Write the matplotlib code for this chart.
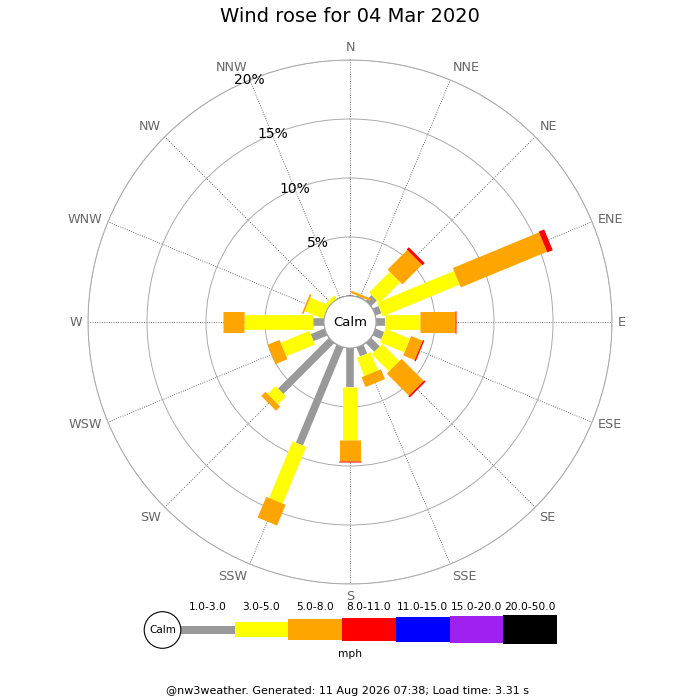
import numpy as np
import matplotlib
matplotlib.use('Agg')
import matplotlib.pyplot as plt
from matplotlib.patches import Circle

# wind rose data, % of time per direction and speed class
directions = ['N', 'NNE', 'NE', 'ENE', 'E', 'ESE', 'SE', 'SSE',
              'S', 'SSW', 'SW', 'WSW', 'W', 'WNW', 'NW', 'NNW']
speed_1_3 = [0, 0.1, 0.7, 0.55, 0.75, 0.8, 1.05, 0.83, 3.3, 9.0, 6.1, 1.27, 0.9, 0, 0, 0]
speed_3_5 = [0, 0, 2.5, 7.05, 3.0, 2.25, 2.05, 1.67, 4.5, 5.2, 0.95, 2.63, 5.85, 1.7, 0.35, 0]
speed_5_8 = [0, 0.2, 2.35, 7.9, 2.95, 1.05, 2.65, 0.9, 1.8, 1.9, 0.5, 1.1, 1.85, 0.15, 0, 0]
speed_8_11 = [0, 0, 0.25, 0.5, 0.1, 0.12, 0.15, 0, 0.1, 0, 0, 0, 0, 0, 0, 0]

classes = ['1.0-3.0', '3.0-5.0', '5.0-8.0', '8.0-11.0', '11.0-15.0', '15.0-20.0', '20.0-50.0']
colours = ['#999999', '#ffff00', '#ffa500', '#ff0000', '#0000ff', '#a020f0', '#000000']
widths = [5.5, 10.6, 15.1, 16.2]          # line widths (pt) for the bar segments
leg_heights = [8, 14.7, 20.3, 23, 25, 27, 28.3]

rings = [5, 10, 15, 20]
rmax = 20
origin = 2.2

fig = plt.figure(figsize=(7, 7), dpi=100)
ax = fig.add_axes([0.1257, 0.1657, 0.7486, 0.7486], projection='polar')
ax.set_theta_zero_location('N')
ax.set_theta_direction(-1)
ax.set_ylim(0, rmax)
ax.set_rorigin(-origin)

theta = np.radians(np.arange(16) * 22.5)
ax.set_xticks(theta)
ax.set_xticklabels([])
ax.set_yticks(rings)
ax.set_yticklabels([])
ax.xaxis.grid(True, color='#444444', linestyle=(0, (1, 1.8)), linewidth=0.6)
ax.yaxis.grid(True, color='#aaaaaa', linestyle='-', linewidth=0.7)
ax.spines['polar'].set_color('#aaaaaa')
ax.spines['polar'].set_linewidth(0.7)
for s in ['inner', 'start', 'end']:
    if s in ax.spines:
        ax.spines[s].set_visible(False)

# stacked segments, drawn as thick butt-capped lines so they keep a constant width
series = [speed_1_3, speed_3_5, speed_5_8, speed_8_11]
bottom = np.zeros(16)
for vals, col, lw in zip(series, colours, widths):
    vals = np.array(vals)
    for th, b, v in zip(theta, bottom, vals):
        if v > 0:
            ax.plot([th, th], [b, b + v], color=col, lw=lw, solid_capstyle='butt', zorder=3)
    bottom = bottom + vals

# calm circle
ax.add_patch(Circle((0.5, 0.5), 26 / 524, transform=ax.transAxes, facecolor='white',
                    edgecolor='#aaaaaa', lw=0.8, zorder=6, clip_on=False))
ax.text(0.5, 0.5, 'Calm', transform=ax.transAxes, ha='center', va='center', fontsize=9.5, zorder=7)

# direction labels
for th, name in zip(theta, directions):
    s, c = np.sin(th), np.cos(th)
    ha = 'left' if s > 0.1 else ('right' if s < -0.1 else 'center')
    va = 'bottom' if c > 0.5 else ('top' if c < -0.5 else 'center')
    ax.text(th, rmax + 0.5, name, ha=ha, va=va, fontsize=9.2, color='#666666')

for r in rings:
    ax.text(np.radians(337.5), r, f'{r}%', ha='center', va='center', fontsize=10, zorder=4)

fig.text(0.5, 1 - 17 / 700, 'Wind rose for 04 Mar 2020', ha='center', va='center', fontsize=14)

# legend strip
leg = fig.add_axes([0, 0, 1, 1])
leg.set_xlim(0, 700)
leg.set_ylim(700, 0)
leg.axis('off')
seg = 53.7
lefts = 181 + np.arange(len(classes)) * seg
leg.barh([629.5] * len(classes), [seg] * len(classes), left=lefts, height=leg_heights,
         color=colours, align='center')
for x, lab in zip(lefts, classes):
    leg.text(x + seg / 2, 607, lab, ha='center', va='center', fontsize=7.7)
leg.add_patch(Circle((162.5, 630), 18.3, facecolor='white', edgecolor='black', lw=0.8))
leg.text(162.5, 630, 'Calm', ha='center', va='center', fontsize=7.5)
leg.text(350, 654, 'mph', ha='center', va='center', fontsize=7.7)
leg.text(348, 691, '@nw3weather. Generated: 11 Aug 2026 07:38; Load time: 3.31 s',
         ha='center', va='center', fontsize=8)

fig.savefig('out.png', dpi=100)
